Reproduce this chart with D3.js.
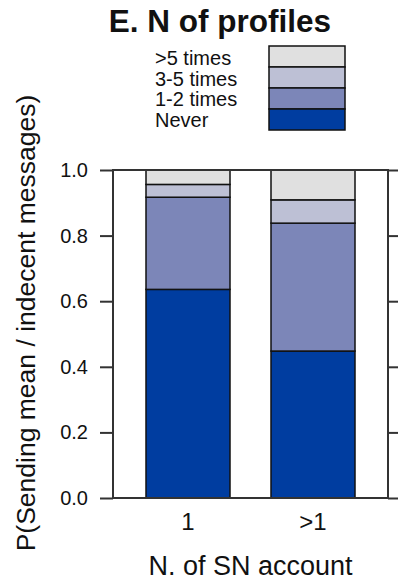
<!DOCTYPE html>
<html><head><meta charset="utf-8">
<script src="https://cdn.jsdelivr.net/npm/d3@7"></script>
<style>body{margin:0;background:#fff}svg{display:block}text{font-family:"Liberation Sans",Arial,Helvetica,sans-serif}</style>
</head><body>
<script>
const categories = ["1", ">1"];
const levels = ["Never", "1-2 times", "3-5 times", ">5 times"];
const colors = ["#003DA0", "#7C86B8", "#BDC0D5", "#E0E0E0"];
// proportions per category, in order of levels
const neverVals = [0.636, 0.448];
const once2Vals = [0.281, 0.390];
const three5Vals = [0.039, 0.071];
const over5Vals = [0.044, 0.091];
const yTicks = [0, 0.2, 0.4, 0.6, 0.8, 1.0];
const title = "E. N of profiles";
const xTitle = "N. of SN account";
const yTitle = "P(Sending mean / indecent messages)";

const W = 398, H = 583;
const svg = d3.select("body").append("svg").attr("width", W).attr("height", H);
const box = {l: 113, r: 388, t: 170, b: 498};
const y = d3.scaleLinear().domain([0, 1]).range([box.b, box.t]);
const x = d3.scaleBand().domain(categories).range([box.l, box.r]).paddingInner(0.328).paddingOuter(0.264);

const table = categories.map((c, i) => ({cat: c, "Never": neverVals[i], "1-2 times": once2Vals[i], "3-5 times": three5Vals[i], ">5 times": over5Vals[i]}));
const stack = d3.stack().keys(levels)(table);

svg.append("g").selectAll("g").data(stack).join("g")
  .attr("fill", (d, i) => colors[i])
  .selectAll("rect").data(d => d).join("rect")
  .attr("x", d => x(d.data.cat))
  .attr("width", x.bandwidth())
  .attr("y", d => y(Math.min(1, d[1])))
  .attr("height", d => y(d[0]) - y(Math.min(1, d[1])))
  .attr("stroke", "#111").attr("stroke-width", 1.5);

// box
svg.append("rect").attr("x", box.l).attr("y", box.t).attr("width", box.r - box.l).attr("height", box.b - box.t)
  .attr("fill", "none").attr("stroke", "#333").attr("stroke-width", 2);

// left axis
const ax = svg.append("g").attr("transform", `translate(${box.l},0)`)
  .call(d3.axisLeft(y).tickValues(yTicks).tickFormat(d3.format(".1f")).tickSize(13).tickPadding(12));
ax.select(".domain").remove();
ax.selectAll("line").attr("stroke", "#333").attr("stroke-width", 2);
ax.selectAll("text").attr("font-size", 20).attr("fill", "#111");

// right-side ticks (neighbouring panel)
const ar = svg.append("g").attr("transform", `translate(${box.r},0)`)
  .call(d3.axisRight(y).tickValues(yTicks).tickFormat("").tickSize(13));
ar.select(".domain").remove();
ar.selectAll("line").attr("stroke", "#333").attr("stroke-width", 2);

// x labels
svg.append("g").selectAll("text").data(categories).join("text")
  .attr("x", d => x(d) + x.bandwidth() / 2).attr("y", 530)
  .attr("text-anchor", "middle").attr("font-size", 24).attr("fill", "#111").text(d => d);

svg.append("text").attr("x", (box.l + box.r) / 2).attr("y", 575).attr("text-anchor", "middle")
  .attr("font-size", 27).attr("fill", "#111").text(xTitle);

svg.append("text").attr("transform", `translate(35,323) rotate(-90)`).attr("text-anchor", "middle")
  .attr("font-size", 26.5).attr("fill", "#111").text(yTitle);

svg.append("text").attr("x", 220).attr("y", 32).attr("text-anchor", "middle")
  .attr("font-size", 31.5).attr("font-weight", "bold").attr("fill", "#111").text(title);

// legend (top to bottom: >5, 3-5, 1-2, Never)
const legItems = levels.map((l, i) => ({label: l, color: colors[i]})).reverse();
const lg = svg.append("g");
legItems.forEach((d, i) => {
  const ry = 46 + i * 21;
  lg.append("rect").attr("x", 269).attr("y", ry).attr("width", 76).attr("height", 21)
    .attr("fill", d.color).attr("stroke", "#111").attr("stroke-width", 1.5);
  lg.append("text").attr("x", 155).attr("y", 65 + i * 20.5).attr("font-size", 20).attr("fill", "#111").text(d.label);
});
</script>
</body></html>
